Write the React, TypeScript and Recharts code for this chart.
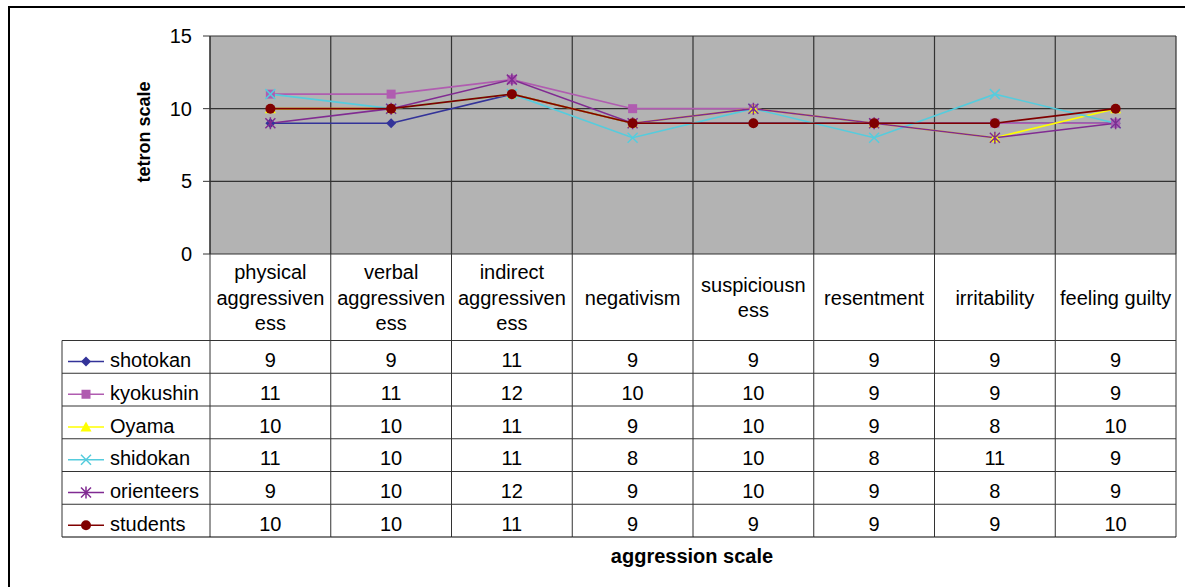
import { LineChart, Line, XAxis, YAxis, CartesianGrid, Customized } from 'recharts';

const CATEGORIES = [
  'physical aggressiveness',
  'verbal aggressiveness',
  'indirect aggressiveness',
  'negativism',
  'suspiciousness',
  'resentment',
  'irritability',
  'feeling guilty',
];
// header text as Excel wraps it in the data table
const HEADER_LINES = [
  ['physical', 'aggressiven', 'ess'],
  ['verbal', 'aggressiven', 'ess'],
  ['indirect', 'aggressiven', 'ess'],
  ['negativism'],
  ['suspiciousn', 'ess'],
  ['resentment'],
  ['irritability'],
  ['feeling guilty'],
];

const SHOTOKAN = [9, 9, 11, 9, 9, 9, 9, 9];
const KYOKUSHIN = [11, 11, 12, 10, 10, 9, 9, 9];
const OYAMA = [10, 10, 11, 9, 10, 9, 8, 10];
const SHIDOKAN = [11, 10, 11, 8, 10, 8, 11, 9];
const ORIENTEERS = [9, 10, 12, 9, 10, 9, 8, 9];
const STUDENTS = [10, 10, 11, 9, 9, 9, 9, 10];

const Y_TICKS = [0, 5, 10, 15];

const SERIES = [
  { key: 'shotokan', values: SHOTOKAN, color: '#333399', shape: 'diamond' },
  { key: 'kyokushin', values: KYOKUSHIN, color: '#B05CB0', shape: 'square' },
  { key: 'Oyama', values: OYAMA, color: '#FFFF00', shape: 'triangle' },
  { key: 'shidokan', values: SHIDOKAN, color: '#55CCDD', shape: 'x' },
  { key: 'orienteers', values: ORIENTEERS, color: '#802B92', shape: 'star' },
  { key: 'students', values: STUDENTS, color: '#800000', shape: 'circle' },
];

const data = CATEGORIES.map((name, i) => {
  const row: Record<string, any> = { name, x: i + 0.5 };
  SERIES.forEach((s) => {
    row[s.key] = s.values[i];
  });
  return row;
});

const BOUNDARY_TICKS = [...CATEGORIES.map((_, i) => i), CATEGORIES.length];
const CENTER_TICKS = CATEGORIES.map((_, i) => i + 0.5);

const W = 1185;
const H = 587;
const PLOT_LEFT = 210;
const PLOT_RIGHT = 1176;
const PLOT_BOTTOM = 254;
const TABLE_H = 283;
const COL_W = (PLOT_RIGHT - PLOT_LEFT) / CATEGORIES.length;
const HEADER_H = 86.5;
const ROW_H = 32.75;
const LEGEND_LEFT = 62;
const FONT = '"Liberation Sans", Arial, sans-serif';
const GRID = '#333';

function Marker({ shape, cx, cy, color }: any) {
  switch (shape) {
    case 'diamond':
      return <path d={`M${cx},${cy - 5}L${cx + 5},${cy}L${cx},${cy + 5}L${cx - 5},${cy}Z`} fill={color} />;
    case 'square':
      return <rect x={cx - 4.5} y={cy - 4.5} width={9} height={9} fill={color} />;
    case 'triangle':
      return <path d={`M${cx},${cy - 5.5}L${cx + 5.5},${cy + 4.5}L${cx - 5.5},${cy + 4.5}Z`} fill={color} />;
    case 'x':
      return (
        <path d={`M${cx - 5},${cy - 5}L${cx + 5},${cy + 5}M${cx - 5},${cy + 5}L${cx + 5},${cy - 5}`} stroke={color} strokeWidth={1.5} />
      );
    case 'star':
      return (
        <path
          d={`M${cx - 5},${cy - 5}L${cx + 5},${cy + 5}M${cx - 5},${cy + 5}L${cx + 5},${cy - 5}M${cx},${cy - 6}L${cx},${cy + 6}`}
          stroke={color}
          strokeWidth={1.5}
        />
      );
    default:
      return <circle cx={cx} cy={cy} r={5} fill={color} />;
  }
}

function TableTick(props: any) {
  const { x, payload } = props;
  const y = PLOT_BOTTOM;
  const i = Math.floor(payload.value);
  const left = x - COL_W / 2;
  const right = x + COL_W / 2;
  const headerBottom = y + HEADER_H;
  const bottom = headerBottom + ROW_H * SERIES.length;
  const lines = HEADER_LINES[i];
  const mid = y + 50.5;

  return (
    <g fontFamily={FONT} fontSize={20} fill="#000">
      {lines.map((t, k) => (
        <text key={k} x={x} y={mid + (k - (lines.length - 1) / 2) * 25.7} textAnchor="middle">
          {t}
        </text>
      ))}
      {SERIES.map((s, r) => (
        <text key={s.key} x={x} y={headerBottom + r * ROW_H + 26.5} textAnchor="middle">
          {s.values[i]}
        </text>
      ))}
      <line x1={left} x2={left} y1={y} y2={bottom} stroke={GRID} />
      {i === CATEGORIES.length - 1 && <line x1={right} x2={right} y1={y} y2={bottom} stroke={GRID} />}
      {SERIES.map((s, r) => (
        <line key={s.key} x1={i === 0 ? LEGEND_LEFT : left} x2={right} y1={headerBottom + r * ROW_H} y2={headerBottom + r * ROW_H} stroke={GRID} />
      ))}
      <line x1={i === 0 ? LEGEND_LEFT : left} x2={right} y1={bottom} y2={bottom} stroke="#000" />
      {i === 0 && (
        <g>
          <line x1={LEGEND_LEFT} x2={LEGEND_LEFT} y1={headerBottom} y2={bottom} stroke={GRID} />
          {SERIES.map((s, r) => {
            const base = headerBottom + r * ROW_H + 26.5;
            const cy = base - 5.5;
            return (
              <g key={s.key}>
                <line x1={68} x2={104} y1={cy} y2={cy} stroke={s.color} strokeWidth={1.5} />
                <Marker shape={s.shape} cx={86} cy={cy} color={s.color} />
                <text x={110} y={base} textAnchor="start">
                  {s.key}
                </text>
              </g>
            );
          })}
        </g>
      )}
    </g>
  );
}

function Decorations() {
  return (
    <g fontFamily={FONT} fill="#000">
      <rect x={9} y={7} width={1300} height={700} fill="none" stroke="#000" strokeWidth={2} />
      <text x={144} y={132} transform="rotate(-90, 144, 132)" textAnchor="middle" dominantBaseline="central" fontWeight="bold" fontSize={18}>
        tetron scale
      </text>
      <text x={692} y={563} textAnchor="middle" fontWeight="bold" fontSize={20}>
        aggression scale
      </text>
    </g>
  );
}

export default function App() {
  return (
    <div style={{ position: 'absolute', left: 0, top: 0, width: W, height: H, background: '#fff' }}>
      <LineChart width={W} height={H} data={data} margin={{ top: 36, right: W - PLOT_RIGHT, left: PLOT_LEFT - 60, bottom: 50 }}>
        <Customized component={Decorations} />
        <CartesianGrid
          fill="#B3B3B3"
          stroke={GRID}
          strokeWidth={1.2}
          verticalValues={BOUNDARY_TICKS}
          horizontalValues={Y_TICKS}
        />
        <XAxis dataKey="x" type="number" domain={[0, CATEGORIES.length]} ticks={BOUNDARY_TICKS} hide />
        <XAxis
          xAxisId="table"
          dataKey="x"
          type="number"
          domain={[0, CATEGORIES.length]}
          ticks={CENTER_TICKS}
          interval={0}
          height={TABLE_H}
          tickSize={0}
          tickMargin={0}
          tickLine={false}
          axisLine={false}
          tick={(p: any) => <TableTick {...p} />}
        />
        <YAxis
          domain={[0, 15]}
          ticks={Y_TICKS}
          interval={0}
          width={60}
          tickSize={7}
          tickMargin={11}
          axisLine={{ stroke: GRID }}
          tickLine={{ stroke: GRID }}
          tick={{ fill: '#000', fontSize: 20, fontFamily: FONT }}
        />
        {SERIES.map((s) => (
          <Line
            key={s.key}
            dataKey={s.key}
            stroke={s.color}
            strokeWidth={1.6}
            isAnimationActive={false}
            dot={(p: any) => <Marker key={`${s.key}-${p.index}`} shape={s.shape} cx={p.cx} cy={p.cy} color={s.color} />}
            activeDot={false}
          />
        ))}
      </LineChart>
    </div>
  );
}
